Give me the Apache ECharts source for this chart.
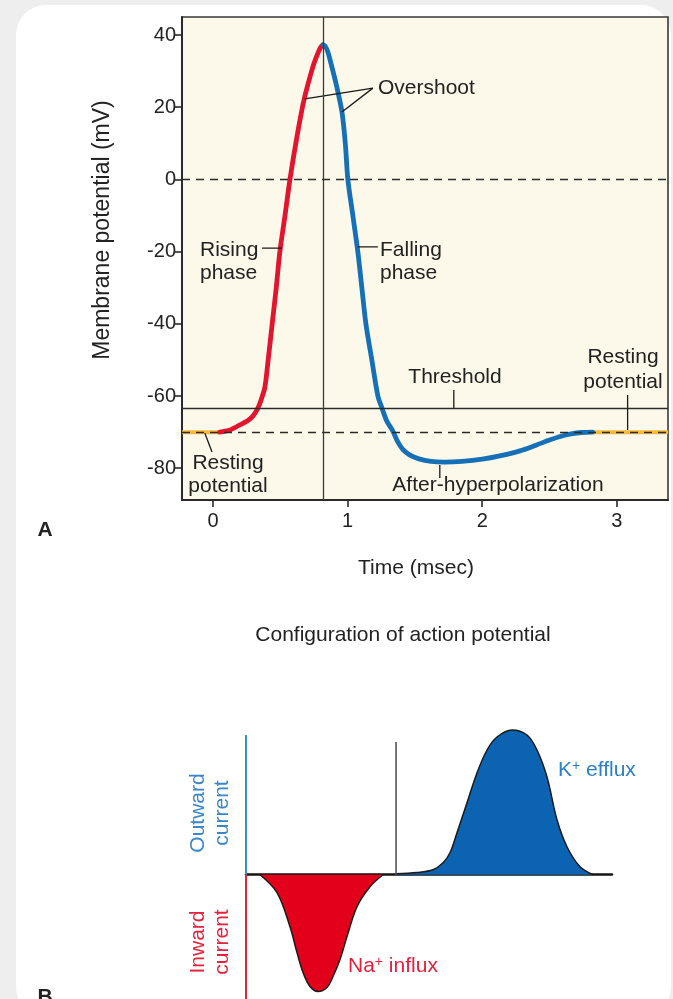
<!DOCTYPE html>
<html><head><meta charset="utf-8">
<script src="https://cdn.jsdelivr.net/npm/echarts@6/dist/echarts.min.js"></script>
<style>
html,body{margin:0;padding:0;background:#eeeeee;width:673px;height:999px;overflow:hidden;}
#card{position:absolute;left:16px;top:5px;width:655px;height:1012px;background:#ffffff;border-radius:30px;}
#chart{position:absolute;left:0;top:0;width:673px;height:999px;}
</style></head><body><div id="card"></div><div id="chart"></div>
<script>
// ---- Panel A: action potential (time in msec, membrane potential in mV)
const xTicks = [0, 1, 2, 3];
const yTicks = [-80, -60, -40, -20, 0, 20, 40];
const restingLeft = [[-0.23, -70], [0.05, -70]];
const risingPhase = [[0.05, -70], [0.12, -69.5], [0.2, -68.0], [0.26, -66.8], [0.30, -65.4], [0.334, -63.3], [0.36, -60.8], [0.386, -57.5], [0.41, -50], [0.44, -40], [0.47, -30], [0.497, -20], [0.535, -10], [0.572, 0], [0.62, 11], [0.676, 22], [0.742, 31.2], [0.775, 34.6], [0.80, 36.6], [0.817, 37.3]];
const fallingPhase = [[0.817, 37.3], [0.832, 37.0], [0.853, 35.4], [0.883, 31.2], [0.92, 25.6], [0.958, 18.7], [0.983, 10], [1.002, 0], [1.039, -10], [1.076, -20], [1.106, -30], [1.136, -40], [1.18, -50], [1.225, -60], [1.255, -63.3], [1.292, -67], [1.336, -69.7], [1.37, -72.5], [1.41, -74.8], [1.46, -76.3], [1.53, -77.4], [1.62, -78.1], [1.72, -78.3], [1.85, -78.1], [2.0, -77.5], [2.13, -76.6], [2.28, -75.2], [2.40, -73.6], [2.50, -72.2], [2.58, -71.2], [2.66, -70.5], [2.74, -70.1], [2.82, -70]];
const restingRight = [[2.82, -70], [3.38, -70]];
const zeroLevel = 0;
const restingLevel = -70;
const thresholdLevel = -63.3;
const peakTime = 0.817;
// annotation pointer lines (data coordinates)
const overshootPointerA = [[0.683, 22.3], [1.188, 25.3]];
const overshootPointerB = [[0.958, 18.7], [1.188, 25.3]];
const risingPointer = [[0.364, -19], [0.512, -19]];
const fallingPointer = [[1.076, -18.7], [1.225, -18.7]];
const thresholdPointer = [[1.789, -58.3], [1.789, -63.3]];
const restRightPointer = [[3.08, -59.7], [3.08, -69.4]];
const restLeftPointer = [[-0.06, -70.3], [-0.007, -75.5]];
const ahpPointer = [[1.685, -79.1], [1.685, -82.7]];

// ---- Panel B: ionic currents (arbitrary units)
const naInflux = [[0.383, 0], [0.847, -0.12], [1.202, -0.347], [1.393, -0.52], [1.557, -0.653], [1.749, -0.747], [1.967, -0.78], [2.213, -0.753], [2.377, -0.68], [2.568, -0.567], [2.760, -0.413], [3.033, -0.213], [3.388, -0.08], [3.743, 0]];
const kEfflux = [[4.098, 0.007], [4.672, 0.015], [5.109, 0.033], [5.383, 0.08], [5.574, 0.147], [5.765, 0.28], [6.038, 0.48], [6.311, 0.68], [6.585, 0.833], [6.858, 0.92], [7.268, 0.967], [7.678, 0.933], [7.951, 0.833], [8.224, 0.653], [8.497, 0.367], [8.770, 0.187], [9.126, 0.053], [9.481, 0]];
const outwardAxis = [[0, 0], [0, 0.933]];
const inwardAxis = [[0, 0], [0, -0.83]];
const peakMarker = [[4.1, 0], [4.1, 0.887]];

const FF = '"Liberation Sans", Arial, Helvetica, sans-serif';
const TXT = '#222';
const RED = '#e3142e';
const BLUE = '#1670b7';
const YEL = '#f6b940';

function pointer(data) {
  return {type: 'line', xAxisIndex: 0, yAxisIndex: 0, data: data, symbol: 'none', silent: true, z: 4,
    lineStyle: {color: '#1a1a1a', width: 1.3}};
}
function txt(x, y, text, opt) {
  opt = opt || {};
  return {type: 'text', x: x, y: y, rotation: opt.rot || 0, z: 10, style: Object.assign({
    x: 0, y: 0, text: text, fontFamily: FF, fontSize: 21, fill: TXT,
    align: opt.align || 'left', verticalAlign: 'middle', lineHeight: opt.lh || 23
  }, opt.style || {})};
}

const chart = echarts.init(document.getElementById('chart'), null, {renderer: 'canvas'});
chart.setOption({
  backgroundColor: 'transparent',
  animation: false,
  grid: [
    {left: 182, top: 17, width: 486, height: 483, show: true, backgroundColor: '#fcf9ea', borderColor: '#3a3a3a', borderWidth: 1.6},
    {left: 246, top: 725, width: 366, height: 274, show: false}
  ],
  xAxis: [
    {type: 'value', gridIndex: 0, min: -0.23, max: 3.38,
      axisLine: {show: true, onZero: false, lineStyle: {color: '#2a2a2a', width: 2}},
      axisTick: {show: true, customValues: xTicks, length: 7, lineStyle: {color: '#2a2a2a', width: 1.6}},
      axisLabel: {customValues: xTicks, fontSize: 20, color: TXT, fontFamily: FF, margin: 11},
      splitLine: {show: false}},
    {type: 'value', gridIndex: 1, min: 0, max: 10,
      axisLine: {show: true, onZero: true, lineStyle: {color: '#151515', width: 2.5}},
      axisTick: {show: false}, axisLabel: {show: false}, splitLine: {show: false}}
  ],
  yAxis: [
    {type: 'value', gridIndex: 0, min: -88.8, max: 45,
      axisLine: {show: true, onZero: false, lineStyle: {color: '#2a2a2a', width: 2}},
      axisTick: {show: true, customValues: yTicks, length: 7, lineStyle: {color: '#2a2a2a', width: 1.6}},
      axisLabel: {customValues: yTicks, fontSize: 20, color: TXT, fontFamily: FF, margin: 6},
      splitLine: {show: false}},
    {type: 'value', gridIndex: 1, min: -0.83, max: 1,
      axisLine: {show: false}, axisTick: {show: false}, axisLabel: {show: false}, splitLine: {show: false}}
  ],
  series: [
    {type: 'line', xAxisIndex: 0, yAxisIndex: 0, data: [], z: 1, silent: true,
      markLine: {symbol: 'none', silent: true, label: {show: false}, animation: false,
        data: [
          {yAxis: zeroLevel, lineStyle: {color: '#2a2a2a', width: 1.4, type: [8, 6]}},
          {yAxis: restingLevel, lineStyle: {color: '#2a2a2a', width: 1.4, type: [8, 6]}},
          {yAxis: thresholdLevel, lineStyle: {color: '#2a2a2a', width: 1.3, type: 'solid'}},
          {xAxis: peakTime, lineStyle: {color: '#3a3a3a', width: 1.3, type: 'solid'}}
        ]}},
    {type: 'line', xAxisIndex: 0, yAxisIndex: 0, data: restingLeft, symbol: 'none', z: 3, lineStyle: {color: YEL, width: 4}},
    {type: 'line', xAxisIndex: 0, yAxisIndex: 0, data: restingRight, symbol: 'none', z: 3, lineStyle: {color: YEL, width: 4}},
    {type: 'line', xAxisIndex: 0, yAxisIndex: 0, data: risingPhase, symbol: 'none', smooth: 0.3, z: 3, lineStyle: {color: RED, width: 4.8, cap: 'round', join: 'round'}},
    {type: 'line', xAxisIndex: 0, yAxisIndex: 0, data: fallingPhase, symbol: 'none', smooth: 0.3, z: 3, lineStyle: {color: BLUE, width: 4.8, cap: 'round', join: 'round'}},
    pointer(overshootPointerA), pointer(overshootPointerB), pointer(risingPointer), pointer(fallingPointer),
    pointer(thresholdPointer), pointer(restRightPointer), pointer(restLeftPointer), pointer(ahpPointer),
    // panel B
    {type: 'line', xAxisIndex: 1, yAxisIndex: 1, data: naInflux, symbol: 'none', smooth: 0.35, z: 3,
      lineStyle: {color: '#1a1a1a', width: 1.5}, areaStyle: {color: '#e2001b', opacity: 1}},
    {type: 'line', xAxisIndex: 1, yAxisIndex: 1, data: kEfflux, symbol: 'none', smooth: 0.35, z: 3,
      lineStyle: {color: '#1a1a1a', width: 1.5}, areaStyle: {color: '#0b63b1', opacity: 1}},
    {type: 'line', xAxisIndex: 1, yAxisIndex: 1, data: outwardAxis, symbol: 'none', z: 4, lineStyle: {color: '#3a8fd2', width: 2}},
    {type: 'line', xAxisIndex: 1, yAxisIndex: 1, data: inwardAxis, symbol: 'none', z: 4, lineStyle: {color: '#e3233c', width: 2}},
    {type: 'line', xAxisIndex: 1, yAxisIndex: 1, data: peakMarker, symbol: 'none', z: 4, lineStyle: {color: '#555', width: 1.6}}
  ],
  graphic: [
    txt(103, 230, 'Membrane potential (mV)', {align: 'center', rot: Math.PI / 2, style: {fontSize: 23}}),
    txt(416, 568, 'Time (msec)', {align: 'center'}),
    txt(378, 88, 'Overshoot'),
    txt(200, 262, 'Rising\nphase'),
    txt(380, 262, 'Falling\nphase'),
    txt(455, 377, 'Threshold', {align: 'center'}),
    txt(623, 370, 'Resting\npotential', {align: 'center', lh: 25}),
    txt(228, 475, 'Resting\npotential', {align: 'center', lh: 23}),
    txt(498, 485, 'After-hyperpolarization', {align: 'center'}),
    txt(45, 530, 'A', {align: 'center', style: {fontWeight: 'bold', fontSize: 21}}),
    txt(45, 986, 'B', {align: 'center', style: {fontWeight: 'bold', fontSize: 21, verticalAlign: 'top'}}),
    txt(403, 635, 'Configuration of action potential', {align: 'center'}),
    txt(210, 813, 'Outward\ncurrent', {align: 'center', rot: Math.PI / 2, lh: 24, style: {fill: '#3a86c8'}}),
    txt(210, 942, 'Inward\ncurrent', {align: 'center', rot: Math.PI / 2, lh: 24, style: {fill: '#e3233c'}}),
    {type: 'text', x: 558, y: 770, z: 10, style: {x: 0, y: 0, text: '{a|K}{s|+}{a| efflux}', verticalAlign: 'middle', align: 'left',
      rich: {a: {fontSize: 21, fontFamily: FF, fill: '#2b7fc4', color: '#2b7fc4'}, s: {fontSize: 14, fontFamily: FF, fill: '#2b7fc4', color: '#2b7fc4', verticalAlign: 'top', padding: [0, 0, 8, 0]}}}},
    {type: 'text', x: 348, y: 966, z: 10, style: {x: 0, y: 0, text: '{a|Na}{s|+}{a| influx}', verticalAlign: 'middle', align: 'left',
      rich: {a: {fontSize: 21, fontFamily: FF, fill: '#e4203a', color: '#e4203a'}, s: {fontSize: 14, fontFamily: FF, fill: '#e4203a', color: '#e4203a', verticalAlign: 'top', padding: [0, 0, 8, 0]}}}}
  ]
});
</script></body></html>
